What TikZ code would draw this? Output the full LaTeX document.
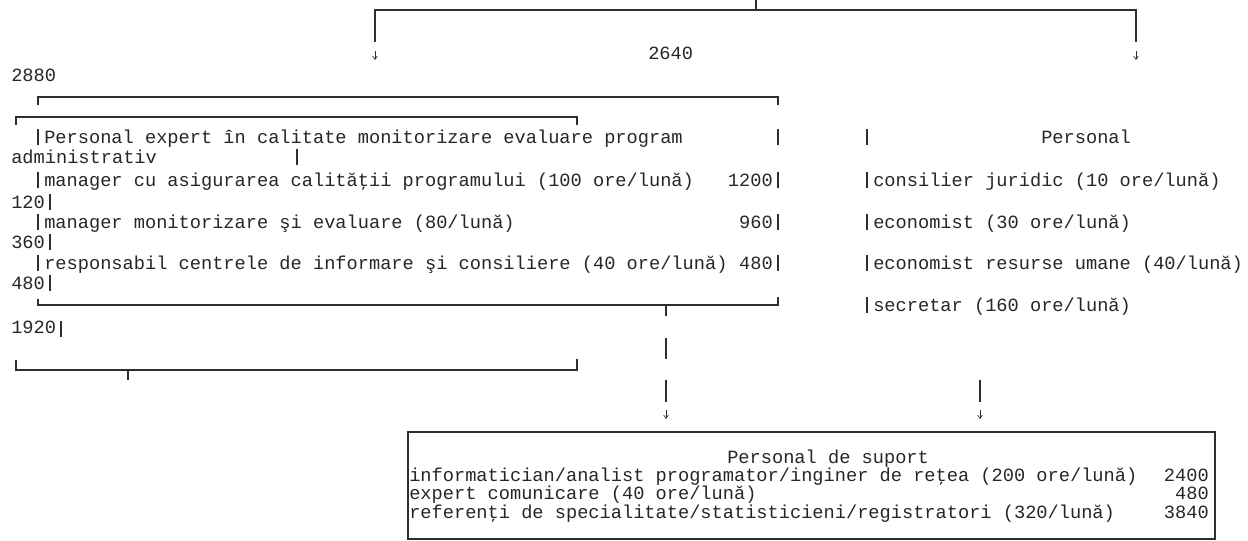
\documentclass[tikz,border=0pt]{standalone}
\usepackage{fontspec}
\newfontfamily\monof{Liberation Mono}
\usetikzlibrary{arrows.meta}
\definecolor{inkx}{HTML}{262626}
\definecolor{rulex}{HTML}{2E2E2E}
\tikzset{
  txt/.style={font=\monof\fontsize{14pt}{18pt}\selectfont,inner sep=0pt,anchor=mid west,yshift=-3pt,text=inkx},
  num/.style={txt,anchor=mid east},
  ln/.style={draw=rulex,line width=0.8pt},
  dn/.style={draw=rulex,line width=0.5pt,-{Straight Barb[length=2.5pt,width=3.5pt]}}
}

\begin{document}
\begin{tikzpicture}[x=0.75pt,y=-0.75pt]
\useasboundingbox (0,0) rectangle (1248,540);
% top split
\draw[ln] (756,0)--(756,10);
\draw[ln] (375,42)--(375,10)--(1136,10)--(1136,42);
\draw[dn] (375,51)--(375,60);
\draw[dn] (1136,51)--(1136,60);
\node[txt] (sum2640) at (648,53) {2640};
\node[txt] (sum2880) at (11,75) {2880};
% expert box
\draw[ln] (38,105)--(38,97)--(778,97)--(778,105);
\draw[ln] (16,125)--(16,117)--(577,117)--(577,125);
\foreach \y in {137,180,222,263} {
  \draw[ln] (38,\y-8)--(38,\y+8);
  \draw[ln] (778,\y-8)--(778,\y+8);
}
\draw[ln] (297,149)--(297,165);
\foreach \y in {202,242,283} \draw[ln] (50,\y-8)--(50,\y+8);
\draw[ln] (38,299)--(38,305)--(778,305)--(778,297);
\draw[ln] (666,305)--(666,316);
\node[txt] (expTitle) at (44,137) {Personal expert în calitate monitorizare evaluare program};
\node[txt] (admTitle) at (11,157) {administrativ};
\node[txt] (expQ) at (44,180) {manager cu asigurarea calităţii programului (100 ore/lună)};
\node[num] (expQv) at (773,180) {1200};
\node[txt] (expM) at (44,222) {manager monitorizare şi evaluare (80/lună)};
\node[num] (expMv) at (773,222) {960};
\node[txt] (expR) at (44,263) {responsabil centrele de informare şi consiliere (40 ore/lună)};
\node[num] (expRv) at (773,263) {480};
\node[txt] (adm120) at (11,202) {120};
\node[txt] (adm360) at (11,242) {360};
\node[txt] (adm480) at (11,283) {480};
\node[txt] (adm1920) at (11,327) {1920};
\draw[ln] (61,321)--(61,337);
% admin bottom bracket
\draw[ln] (16,360)--(16,370)--(577,370)--(577,359);
\draw[ln] (128,370)--(128,380);
% admin column
\foreach \y in {137,180,222,263,305} \draw[ln] (867,\y-8)--(867,\y+8);
\node[txt] (admHead) at (1041,137) {Personal};
\node[txt] (admJ) at (873,180) {consilier juridic (10 ore/lună)};
\node[txt] (admE) at (873,222) {economist (30 ore/lună)};
\node[txt] (admH) at (873,263) {economist resurse umane (40/lună)};
\node[txt] (admS) at (873,305) {secretar (160 ore/lună)};
% links down to support
\draw[ln] (666,338)--(666,359);
\draw[ln] (666,380)--(666,402);
\draw[ln] (980,380)--(980,402);
\draw[dn] (666,410)--(666,419);
\draw[dn] (980,410)--(980,419);
% support box
\draw[ln] (408,432) rectangle (1215,539);
\node[txt] (supHead) at (727,457) {Personal de suport};
\node[txt] (supI) at (409,475) {informatician/analist programator/inginer de reţea (200 ore/lună)};
\node[num] (supIv) at (1209,475) {2400};
\node[txt] (supC) at (409,493) {expert comunicare (40 ore/lună)};
\node[num] (supCv) at (1209,493) {480};
\node[txt] (supR) at (409,512) {referenţi de specialitate/statisticieni/registratori (320/lună)};
\node[num] (supRv) at (1209,512) {3840};
\end{tikzpicture}
\end{document}
